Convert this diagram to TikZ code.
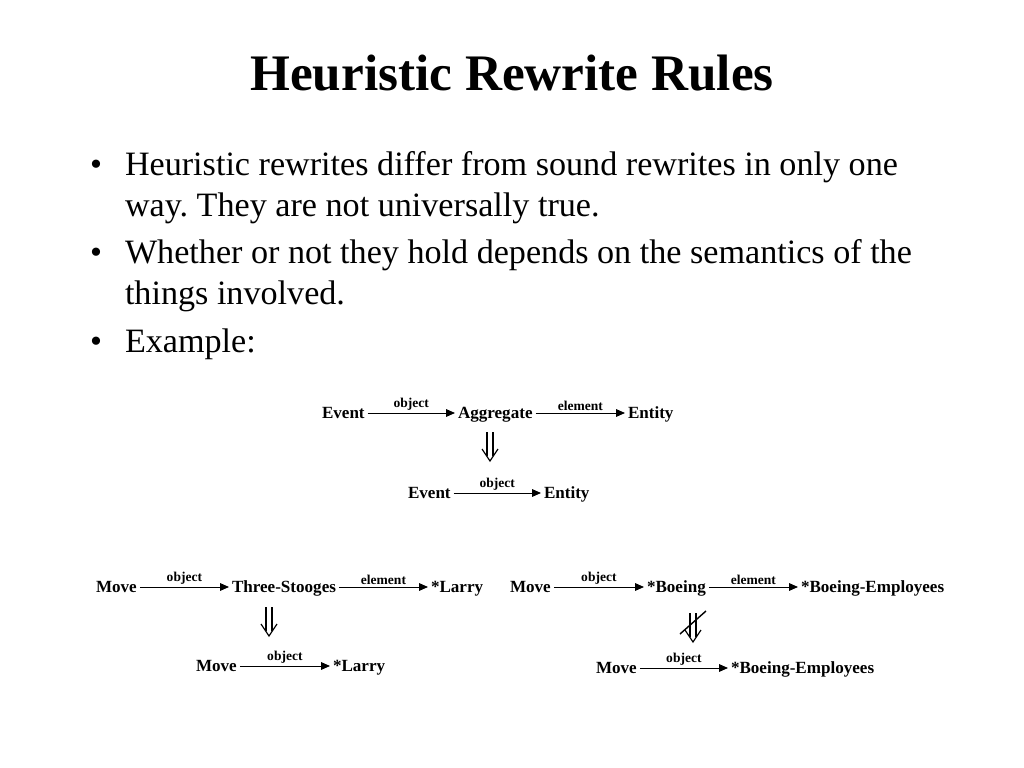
\documentclass[tikz,border=0pt]{standalone}
\usepackage{fontspec}
\setmainfont{Liberation Serif}
\usetikzlibrary{arrows.meta}
\frenchspacing
\begin{document}
\begin{tikzpicture}[x=0.703pt,y=-0.703pt,
 every node/.style={inner sep=0pt, outer sep=0pt},
 title/.style={anchor=base, font=\fontsize{36}{40}\selectfont\bfseries},
 body/.style={anchor=base west, font=\fontsize{24}{29}\selectfont},
 term/.style={anchor=base west, font=\fontsize{12}{14}\selectfont\bfseries},
 rel/.style={font=\fontsize{9.5}{11}\selectfont\bfseries, above=2pt, midway},
 arr/.style={line width=0.7pt, -{Triangle[length=6.3pt,width=5.4pt]}},
 dn/.style={line width=0.85pt, line join=miter}
]
\useasboundingbox (0,0) rectangle (1024,768);
\node[title] (t) at (512,90) {Heuristic Rewrite Rules};
% bullets
\node[body] (b1) at (90,175) {\textbullet};
\node[body] (l1) at (125,175) {Heuristic rewrites differ from sound rewrites in only one};
\node[body] (l1b) at (125,216) {way. They are not universally true.};
\node[body] (b2) at (90,263) {\textbullet};
\node[body] (l2) at (125,263) {Whether or not they hold depends on the semantics of the};
\node[body] (l2b) at (125,304) {things involved.};
\node[body] (b3) at (90,352) {\textbullet};
\node[body] (l3) at (125,352) {Example:};
% example 1
\node[term] (e1) at (322,418) {Event};
\node[term] (ag) at (458,418) {Aggregate};
\node[term] (en1) at (628,418) {Entity};
\draw[arr] ([shift={(3,-5)}]e1.base east) -- ([shift={(-3,-5)}]ag.base west) node[rel]{object};
\draw[arr] ([shift={(3,-5)}]ag.base east) -- ([shift={(-3,-5)}]en1.base west) node[rel]{element};
\begin{scope}[shift={(490,432)}]
 \draw[dn] (-3,0) -- (-3,24) (3,0) -- (3,24);
 \draw[dn] (-8,17) -- (0,29) -- (8,17);
\end{scope}
\node[term] (e2) at (408,498) {Event};
\node[term] (en2) at (544,498) {Entity};
\draw[arr] ([shift={(3,-5)}]e2.base east) -- ([shift={(-3,-5)}]en2.base west) node[rel]{object};
% example 2
\node[term] (m1) at (96,592) {Move};
\node[term] (ts) at (232,592) {Three-Stooges};
\node[term] (la1) at (431,592) {*Larry};
\draw[arr] ([shift={(3,-5)}]m1.base east) -- ([shift={(-3,-5)}]ts.base west) node[rel]{object};
\draw[arr] ([shift={(3,-5)}]ts.base east) -- ([shift={(-3,-5)}]la1.base west) node[rel]{element};
\begin{scope}[shift={(269,607)}]
 \draw[dn] (-3,0) -- (-3,24) (3,0) -- (3,24);
 \draw[dn] (-8,17) -- (0,29) -- (8,17);
\end{scope}
\node[term] (m2) at (196,671) {Move};
\node[term] (la2) at (333,671) {*Larry};
\draw[arr] ([shift={(3,-5)}]m2.base east) -- ([shift={(-3,-5)}]la2.base west) node[rel]{object};
% example 3
\node[term] (m3) at (510,592) {Move};
\node[term] (bo) at (647,592) {*Boeing};
\node[term] (be1) at (801,592) {*Boeing-Employees};
\draw[arr] ([shift={(3,-5)}]m3.base east) -- ([shift={(-3,-5)}]bo.base west) node[rel]{object};
\draw[arr] ([shift={(3,-5)}]bo.base east) -- ([shift={(-3,-5)}]be1.base west) node[rel]{element};
\begin{scope}[shift={(693,613)}]
 \draw[dn] (-3,0) -- (-3,24) (3,0) -- (3,24);
 \draw[dn] (-8,17) -- (0,29) -- (8,17);
 \draw[line width=1pt] (-13,21) -- (13,-2);
\end{scope}
\node[term] (m4) at (596,673) {Move};
\node[term] (be2) at (731,673) {*Boeing-Employees};
\draw[arr] ([shift={(3,-5)}]m4.base east) -- ([shift={(-3,-5)}]be2.base west) node[rel]{object};
\end{tikzpicture}
\end{document}
